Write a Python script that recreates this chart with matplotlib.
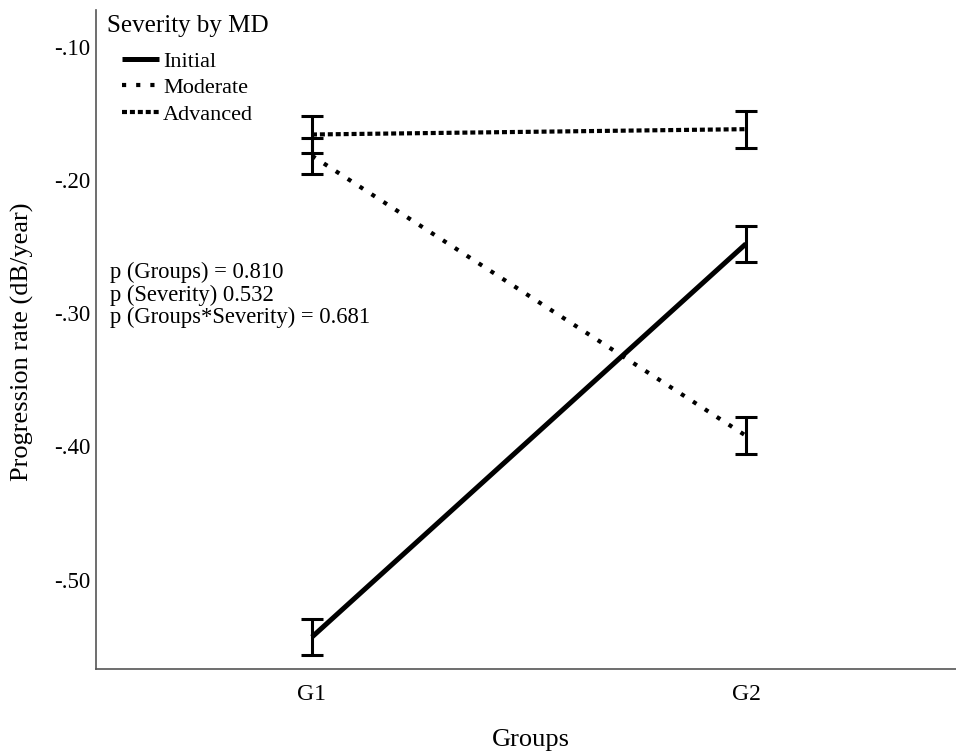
import matplotlib
matplotlib.use("Agg")
import matplotlib.pyplot as plt
from matplotlib.lines import Line2D

plt.rcParams['font.family'] = ['Liberation Serif', 'DejaVu Serif']

groups = ["G1", "G2"]
severity = ["Initial", "Moderate", "Advanced"]
means = {
    "Initial": [-0.543, -0.248],
    "Moderate": [-0.182, -0.392],
    "Advanced": [-0.166, -0.162],
}
errs = {
    "Initial": [0.0133, 0.0137],
    "Moderate": [0.0137, 0.0137],
    "Advanced": [0.0137, 0.0139],
}
yticks = [-0.10, -0.20, -0.30, -0.40, -0.50]
ytick_labels = ["-.10", "-.20", "-.30", "-.40", "-.50"]
annotation = ["p (Groups) = 0.810", "p (Severity) 0.532", "p (Groups*Severity) = 0.681"]
legend_title = "Severity by MD"

styles = {
    "Initial": dict(linestyle="-", linewidth=3.6),
    "Moderate": dict(linestyle=(0, (1.0, 2.4)), linewidth=3.0),
    "Advanced": dict(linestyle=(0, (1.2, 0.7)), linewidth=3.0),
}

fig = plt.figure(figsize=(9.56, 7.52), dpi=100)
ax = fig.add_axes([96/956, 1-669/752, 1-96/956, (669-10)/752])

x = list(range(len(groups)))
handles = []
for s in severity:
    ax.errorbar(x, means[s], yerr=errs[s], fmt="none", ecolor="black",
                elinewidth=2.2, capsize=8, capthick=2.2, zorder=3)
    ax.plot(x, means[s], color="black", dash_capstyle="butt",
            solid_capstyle="butt", zorder=2, **styles[s])
    handles.append(Line2D([], [], color="black", dash_capstyle="butt",
                          solid_capstyle="butt", **styles[s]))

ax.set_xlim(-0.4977, 1.484)
ax.set_ylim(-0.567, -0.0726)
ax.set_xticks(x)
ax.set_xticklabels(groups, fontsize=17)
ax.set_yticks(yticks)
ax.set_yticklabels(ytick_labels, fontsize=16.5)
ax.tick_params(axis="y", length=0, pad=4)
ax.tick_params(axis="x", length=0, pad=11)
for sp in ["top", "right"]:
    ax.spines[sp].set_visible(False)
for sp in ["left", "bottom"]:
    ax.spines[sp].set_color("#555555")
    ax.spines[sp].set_linewidth(1.2)

ax.set_xlabel("Groups", fontsize=19)
ax.xaxis.set_label_coords((531-96)/860, -(740-669)/659, transform=ax.transAxes)
ax.xaxis.label.set_va("center")
ax.set_ylabel("Progression rate (dB/year)", fontsize=19)
ax.yaxis.set_label_coords(-(96-22)/860, 1-(342-10)/659)
ax.yaxis.label.set_va("center")

ax.text((110-96)/860, 1 - (262-10)/659, "\n".join(annotation),
        transform=ax.transAxes, fontsize=16.3, va="top", ha="left",
        linespacing=1.07)

ax.text((107-96)/860, 1 - (26-10)/659, legend_title, transform=ax.transAxes,
        fontsize=18, va="center", ha="left")

leg = ax.legend(handles, severity, loc="upper left",
                bbox_to_anchor=((122-96)/860, 1 - (51-10)/659),
                frameon=False, fontsize=16, handlelength=1.67,
                handletextpad=0.18, labelspacing=0.27, borderaxespad=0,
                borderpad=0)

fig.savefig("out.png", dpi=100, facecolor="white")
